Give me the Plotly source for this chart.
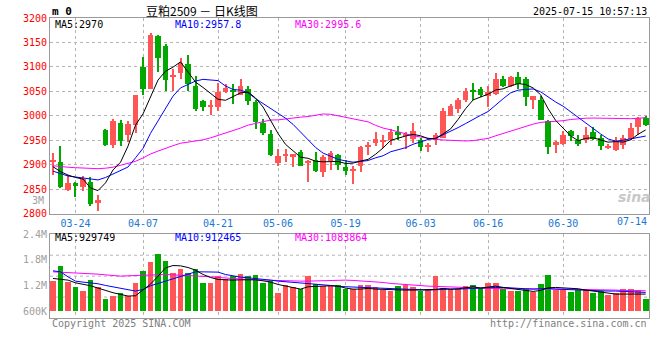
import plotly.graph_objects as go

dates = ["03-19","03-20","03-21","03-24","03-25","03-26","03-27","03-28","03-31","04-01",
         "04-02","04-03","04-07","04-08","04-09","04-10","04-11","04-14","04-15","04-16",
         "04-17","04-18","04-21","04-22","04-23","04-24","04-25","04-28","04-29","04-30",
         "05-06","05-07","05-08","05-09","05-12","05-13","05-14","05-15","05-16","05-19",
         "05-20","05-21","05-22","05-23","05-26","05-27","05-28","05-29","05-30","06-03",
         "06-04","06-05","06-06","06-09","06-10","06-11","06-12","06-13","06-16","06-17",
         "06-18","06-19","06-20","06-23","06-24","06-25","06-26","06-27","06-30","07-01",
         "07-02","07-03","07-04","07-07","07-08","07-09","07-10","07-11","07-14","07-15"]

open_ = [2907,2906,2849,2862,2855,2864,2823,2972,2941,2985,2960,2982,3100,3055,3164,3143,3079,3087,3106,3062,
         3030,3020,3019,3048,3053,3043,3055,3028,2985,2962,2904,2919,2915,2927,2905,2910,2885,2908,2920,2896,
         2889,2897,2936,2944,2946,2951,2966,2960,2953,2951,2938,2951,2955,3000,3014,3032,3051,3055,3040,3045,
         3075,3060,3079,3076,3033,3033,2989,2940,2942,2970,2951,2951,2968,2955,2935,2930,2941,2953,2977,2996]
high = [2924,2938,2880,2865,2877,2875,2838,2973,2994,2992,2989,3043,3120,3170,3166,3147,3096,3118,3125,3082,
        3033,3033,3067,3066,3066,3076,3060,3033,2994,2972,2933,2932,2923,2931,2910,2927,2919,2928,2923,2909,
        2897,2939,2947,2968,2960,2973,2980,2968,2985,2955,2945,2965,3016,3025,3036,3057,3067,3058,3062,3087,
        3082,3081,3089,3079,3041,3040,2991,2948,2970,2972,2960,2977,2977,2960,2943,2957,2961,2985,2998,3000]
low = [2880,2852,2846,2834,2847,2815,2805,2939,2934,2938,2946,2965,3042,3055,3090,3051,3050,3076,3050,3010,
       3010,3002,3010,3047,3025,3042,3023,2974,2961,2917,2897,2905,2896,2897,2864,2885,2874,2889,2890,2879,
       2860,2885,2919,2939,2934,2941,2951,2933,2945,2928,2926,2941,2954,3000,3006,3028,3032,3038,3019,3043,
       3059,3059,3055,3021,3013,2991,2921,2925,2941,2948,2938,2945,2950,2931,2932,2928,2932,2951,2960,2979]
close = [2910,2854,2862,2858,2870,2819,2827,2941,2990,2949,2984,3042,3055,3166,3119,3074,3084,3108,3066,3013,
         3019,3023,3048,3056,3048,3060,3031,2987,2964,2919,2917,2921,2922,2898,2908,2887,2915,2924,2900,2887,
         2891,2936,2941,2953,2951,2968,2960,2962,2970,2936,2940,2960,3010,3021,3033,3050,3049,3042,3048,3075,
         3062,3079,3066,3038,3040,2992,2936,2947,2961,2959,2943,2960,2953,2938,2937,2949,2955,2976,2995,2981]

ma5 = [2896,2886,2879,2874,2870.8,2852.6,2847.2,2863,2889.4,2905.2,2938.2,2981.2,3004,3039.2,3073.2,3091.2,
       3099.6,3110.2,3090.2,3069,3058,3045.8,3033.8,3031.8,3038.8,3047,3048.6,3036.4,3018,2992.2,2963.6,2941.6,
       2928.6,2915.4,2913.2,2907.2,2906,2906.4,2906.8,2902.6,2903.4,2907.6,2911,2921.6,2934.4,2949.8,2954.6,
       2958.8,2962.2,2959.2,2953.6,2953.6,2963.2,2973.4,2992.8,3014.8,3032.6,3039,3044.4,3052.8,3055.2,3061.2,
       3066,3064,3057,3043,3014.4,2990.6,2975.2,2959,2949.2,2954,2955.2,2950.6,2946.2,2947.4,2946.4,2951,
       2962.4,2971.2]
ma10 = [2887,2882,2877,2875,2873,2870,2869,2874,2881,2888.0,2895.4,2914.2,2933.5,2964.3,2989.2,3014.7,3040.4,
        3057.1,3064.7,3071.1,3074.6,3072.7,3072.0,3061.0,3053.9,3052.5,3047.2,3035.1,3024.9,3015.5,3005.3,
        2995.1,2982.5,2966.7,2952.7,2935.4,2923.8,2917.5,2911.1,2907.9,2905.3,2906.8,2908.7,2914.2,2918.5,
        2926.6,2931.1,2934.9,2941.9,2946.8,2951.7,2954.1,2961.0,2967.8,2976.0,2984.2,2993.1,3001.1,3008.9,
        3022.8,3035.0,3046.9,3052.5,3054.2,3054.9,3049.1,3037.8,3028.3,3019.6,3008.0,2996.1,2984.2,2972.9,
        2962.9,2952.6,2948.3,2950.2,2953.1,2956.5,2958.7]
ma30 = [2898,2896,2895,2894,2893,2892,2892,2893,2895,2899,2903,2907,2914,2922,2928,2934,2939,2944,2946,2948,
        2951,2955,2960,2964,2969,2975,2981,2985,2988,2991.5,2991.8,2994.0,2996.0,2997.3,2998.6,3000.9,3003.8,
        3003.2,3000.2,2998.2,2995.1,2991.5,2987.7,2980.6,2975.0,2971.5,2967.4,2962.5,2959.3,2956.7,2954.1,
        2952.0,2950.7,2949.6,2949.1,2948.7,2949.3,2951.2,2954.0,2959.2,2964.0,2969.3,2974.1,2978.7,2983.1,
        2986.6,2987.3,2988.1,2990.1,2992.5,2994.3,2995.1,2995.5,2995.0,2994.5,2993.9,2993.7,2994.2,2995.0,2996.5]

volume = [1301,1652,1278,1161,1068,1325,1145,880,935,1013,943,1262,1535,1753,1940,1769,1496,1582,1496,1590,
          1239,1262,1403,1340,1403,1473,1418,1442,1262,1286,1005,1200,1145,1114,1426,1216,1169,1180,1208,1106,
          1106,1208,1208,1145,1091,1052,1184,1208,1145,1052,1106,1403,1130,1099,1106,1184,1208,1130,1262,1262,
          1099,1052,1052,1106,1029,1231,1442,1075,1075,1029,1075,1091,1013,1052,958,1013,1114,1114,1075,880]
vol_ma5 = [1364,1348,1325,1262,1231,1192,1138,1075,1029,990,951,958,1091,1231,1418,1613,1667,1660,1621,1558,
           1457,1387,1340,1325,1325,1332,1340,1332,1309,1278,1223,1184,1153,1114,1169,1184,1184,1192,1184,1138,
           1114,1114,1130,1114,1106,1091,1083,1091,1091,1091,1091,1106,1130,1114,1122,1138,1169,1138,1153,1184,
           1153,1130,1122,1091,1060,1083,1145,1153,1145,1138,1122,1091,1068,1036,1005,997,997,997,997,997]
vol_ma10 = [1543,1519,1403,1301,1278,1262,1239,1200,1169,1130,1091,1068,1106,1192,1247,1301,1364,1418,1465,1519,
            1519,1519,1512,1457,1418,1395,1379,1364,1348,1325,1301,1286,1270,1270,1255,1231,1216,1200,1177,1169,
            1161,1153,1145,1138,1130,1122,1114,1114,1106,1099,1091,1099,1114,1114,1114,1122,1145,1145,1145,1153,
            1153,1138,1130,1122,1114,1122,1130,1114,1106,1091,1091,1083,1075,1075,1068,1068,1060,1052,1044,1036]
vol_ma30 = [1519,1512,1504,1496,1488,1473,1465,1449,1434,1418,1426,1434,1442,1449,1457,1457,1449,1442,1434,1426,
            1418,1403,1387,1371,1356,1348,1340,1332,1325,1317,1309,1301,1301,1301,1301,1309,1317,1325,1325,1325,
            1317,1309,1301,1286,1270,1247,1231,1216,1200,1192,1184,1177,1169,1161,1153,1145,1138,1130,1130,1130,
            1122,1122,1122,1122,1122,1130,1130,1122,1114,1114,1106,1106,1099,1099,1091,1091,1083,1083,1075,1075]

price_ticks = [2800, 2850, 2900, 2950, 3000, 3050, 3100, 3150, 3200]
vol_tickvals = [600000, 1200000, 1800000, 2400000]
vol_ticktext = ["600K", "1.2M", "1.8M", "2.4M"]
label_dates = ["03-24", "04-07", "04-21", "05-06", "05-19", "06-03", "06-16", "06-30"]
last_label = "07-14"

RED = "#ff5555"
GREEN = "#00a800"
MONO = "DejaVu Sans Mono"
VOL_BASE = 600000

up = [c >= o for o, c in zip(open_, close)]
colors = [RED if u else GREEN for u in up]
body_base = [min(o, c) for o, c in zip(open_, close)]
body_len = [max(abs(c - o), 1.5) for o, c in zip(open_, close)]
wick_len = [h - l for h, l in zip(high, low)]

fig = go.Figure()
# wicks
fig.add_trace(go.Bar(x=dates, y=wick_len, base=low, width=0.14,
                     marker=dict(color=colors, line=dict(width=0)),
                     xaxis="x", yaxis="y", showlegend=False, hoverinfo="skip"))
# bodies
fig.add_trace(go.Bar(x=dates, y=body_len, base=body_base, width=0.76,
                     marker=dict(color=colors, line=dict(width=0)),
                     xaxis="x", yaxis="y", showlegend=False, hoverinfo="skip"))
for vals, col in [(ma30, "#ff00ff"), (ma10, "#0000ff"), (ma5, "#000000")]:
    fig.add_trace(go.Scatter(x=dates, y=vals, mode="lines", line=dict(color=col, width=1),
                             xaxis="x", yaxis="y", showlegend=False, hoverinfo="skip"))

fig.add_trace(go.Bar(x=dates, y=[v * 1000 - VOL_BASE for v in volume], base=VOL_BASE,
                     marker=dict(color=colors, line=dict(width=0)), width=0.76,
                     xaxis="x2", yaxis="y2", showlegend=False, hoverinfo="skip"))
for vals, col in [(vol_ma30, "#ff00ff"), (vol_ma10, "#0000ff"), (vol_ma5, "#000000")]:
    fig.add_trace(go.Scatter(x=dates, y=[v * 1000 for v in vals], mode="lines",
                             line=dict(color=col, width=1), xaxis="x2", yaxis="y2",
                             showlegend=False, hoverinfo="skip"))

GRID = "#b4b4b4"
FRAME = "#9a9a9a"
common_x = dict(type="category", categoryorder="array", categoryarray=dates,
                range=[-0.4, 79.44], tickvals=label_dates, showgrid=True, gridcolor=GRID,
                griddash="dot", gridwidth=1, showline=True, mirror=True, linecolor=FRAME,
                linewidth=1, ticks="", zeroline=False)

fig.update_layout(
    width=660, height=360,
    margin=dict(l=50, r=11, t=18, b=42),
    paper_bgcolor="white", plot_bgcolor="white",
    barmode="overlay", bargap=0, showlegend=False, hovermode=False,
    xaxis=dict(**common_x, anchor="y",
               ticktext=label_dates, tickfont=dict(family=MONO, size=10, color="#1a78d0")),
    xaxis2=dict(**common_x, anchor="y2", matches="x", showticklabels=False),
    yaxis=dict(domain=[0.3477, 1.0], range=[2800, 3200], tickvals=price_ticks,
               showgrid=True, gridcolor=GRID, griddash="dot", showline=True, mirror=True,
               linecolor=FRAME, ticks="", zeroline=False,
               tickfont=dict(family=MONO, size=10, color="#ff0000")),
    yaxis2=dict(domain=[0.0, 0.279], range=[436000, 2400000], tickvals=vol_tickvals,
                ticktext=vol_ticktext, showgrid=False, showline=True, mirror=True,
                linecolor=FRAME, ticks="", zeroline=False,
                tickfont=dict(family=MONO, size=10, color="#a0a0a0")),
)

for frac in [0.25, 0.5, 0.75]:
    fig.add_shape(type="line", xref="x2 domain", yref="y2 domain", x0=0, x1=1, y0=frac, y1=frac,
                  line=dict(color=GRID, width=1, dash="dot"), layer="below")

def ann(text, x, y, color="#000000", size=10, xanchor="left", family=MONO, **kw):
    fig.add_annotation(text=text, x=x, y=y, xref="paper", yref="paper", showarrow=False,
                       xanchor=xanchor, yanchor="middle",
                       font=dict(family=family, size=size, color=color), **kw)

ann("<b>m 0</b>", 0.0, 1.022, size=11)
ann("豆粕2509 － 日K线图", 0.2533, 1.026, size=12, xanchor="center", family="Noto Sans CJK SC")
ann("2025-07-15 10:57:13", 1.0, 1.02, xanchor="right")
ann("MA5:2970", 0.005, 0.978)
ann("MA10:2957.8", 0.206, 0.978, color="#0000ff")
ann("MA30:2995.6", 0.406, 0.978, color="#ff00ff")
ann("MA5:929749", 0.005, 0.268)
ann("MA10:912465", 0.206, 0.268, color="#0000ff")
ann("MA30:1083864", 0.406, 0.268, color="#ff00ff")
ann("3M", -0.006, 0.392, color="#a0a0a0", xanchor="right")
ann(last_label, 1.0, 0.321, color="#1a78d0", xanchor="right")
ann("Copyright 2025 SINA.COM", 0.0, -0.018, color="#808080")
ann("http://finance.sina.com.cn", 1.0, -0.018, color="#808080", xanchor="right")
ann("<i><b>sina</b></i>", 0.975, 0.405, color="#c8c8c8", size=14, xanchor="center",
    family="DejaVu Sans")

fig.write_html("out.html", config={"displayModeBar": False},
               post_script="document.body.style.margin='0';")
